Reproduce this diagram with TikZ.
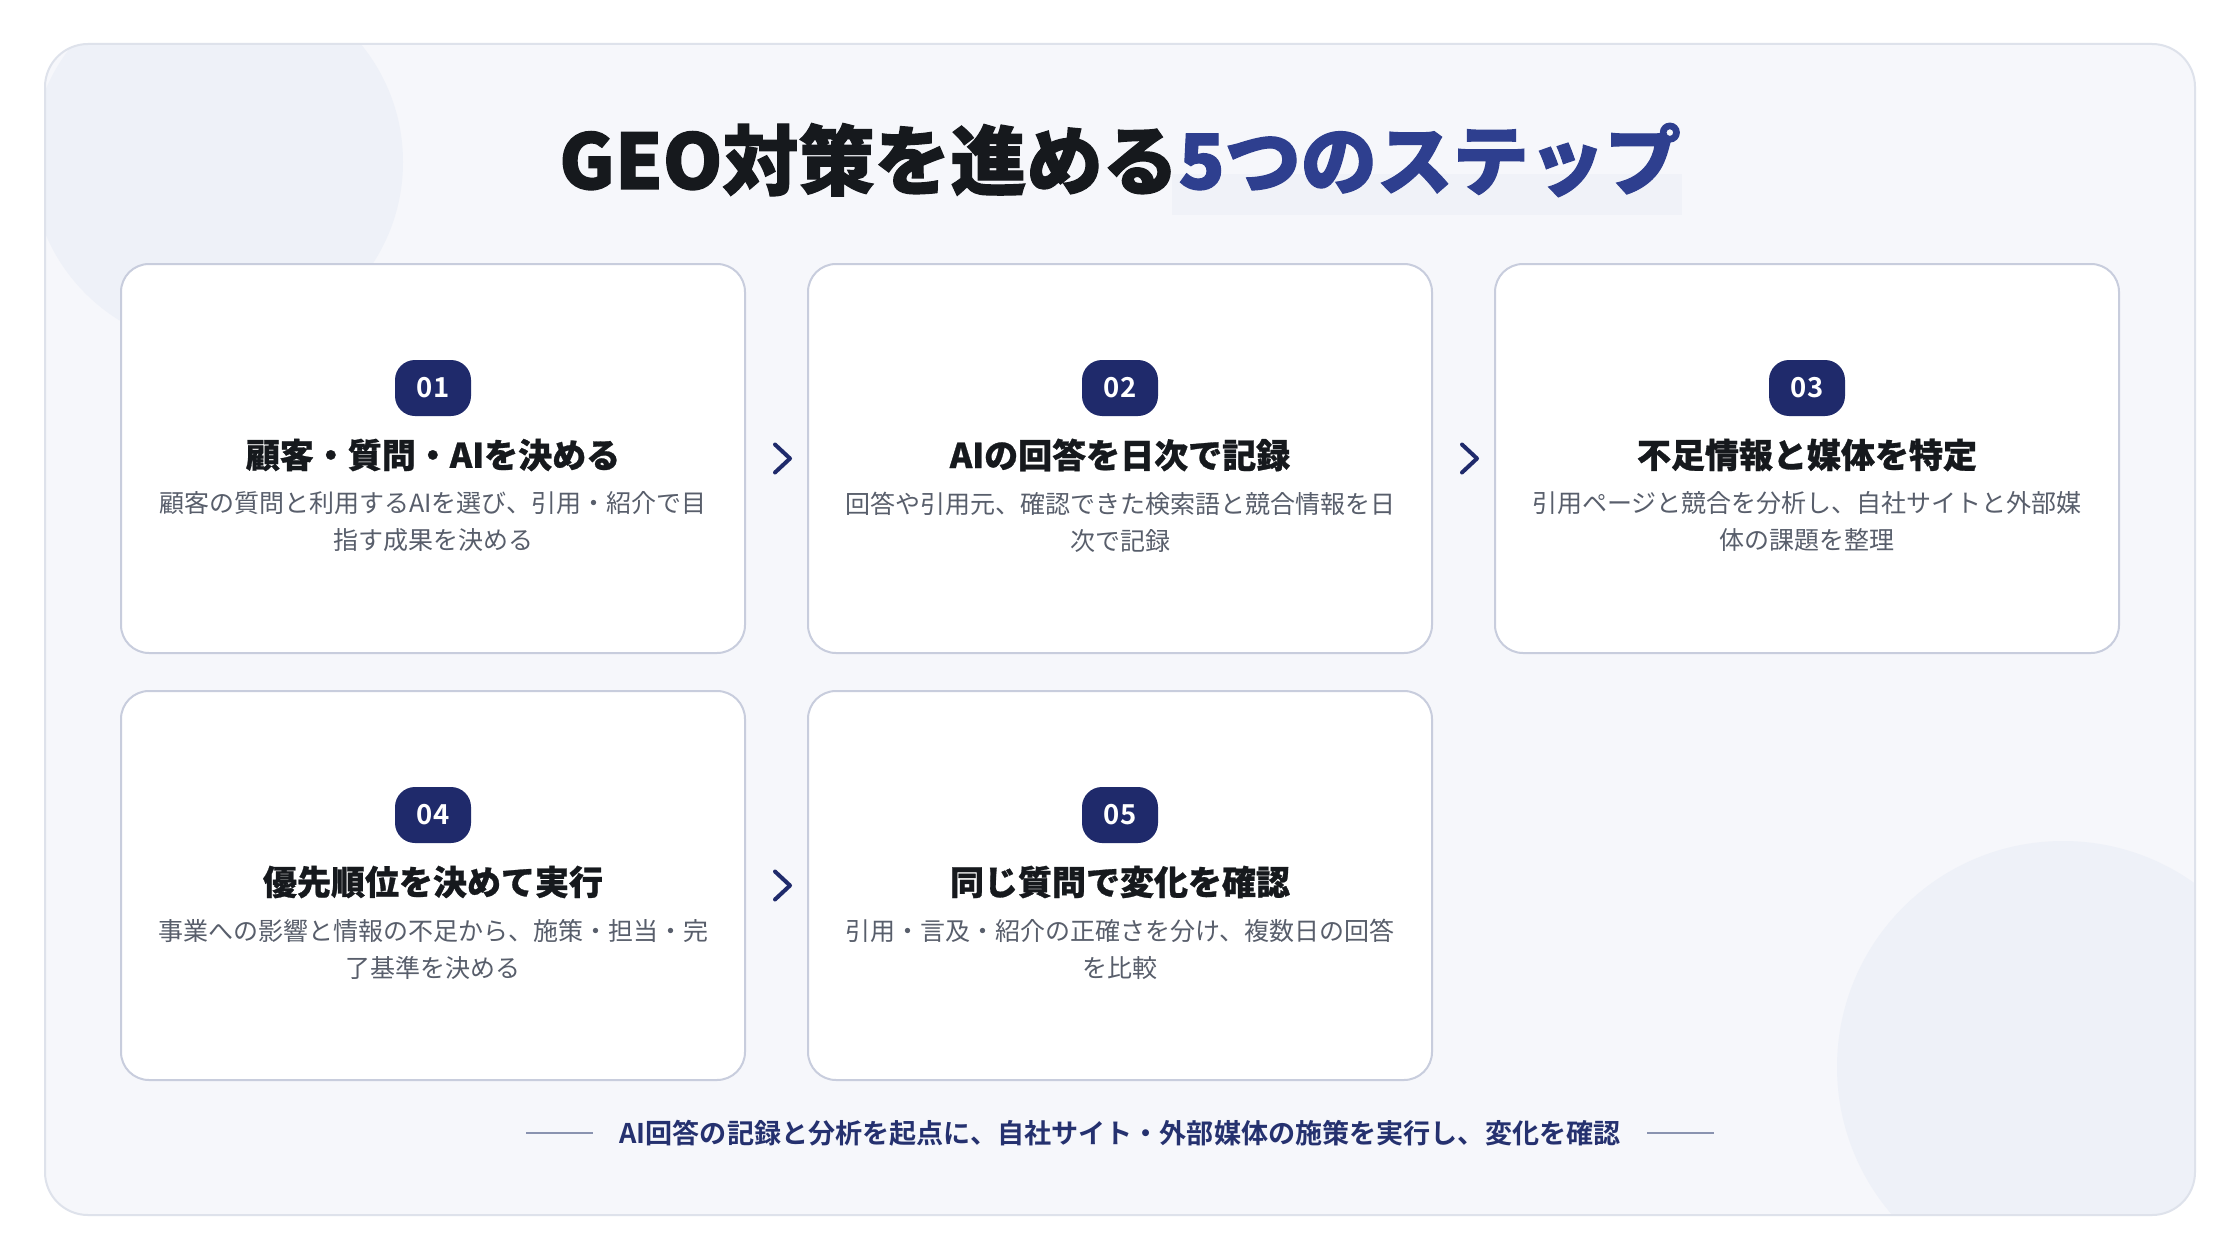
\documentclass[tikz,border=0pt]{standalone}
\usepackage{fontspec}
\setmainfont{Noto Sans CJK JP}
\newfontfamily\heavyfont{Noto Sans CJK JP Black}[FakeBold=0.8]
\newfontfamily\titlefont{Noto Sans CJK JP Black}[FakeBold=1.6]
\newfontfamily\boldfont{Noto Sans CJK JP Bold}
\newfontfamily\badgefont{Noto Sans CJK JP Bold}[LetterSpace=4]
\usetikzlibrary{calc}
\definecolor{ink}{HTML}{16191D}
\definecolor{blue5}{HTML}{2E3F8F}
\definecolor{navy}{HTML}{1F2A6B}
\definecolor{desc}{HTML}{585E6B}
\definecolor{cardline}{HTML}{C8CDDD}
\definecolor{panelbg}{HTML}{F6F7FB}
\definecolor{panelline}{HTML}{DEE2EB}
\definecolor{circ}{HTML}{EEF1F8}
\definecolor{hl}{HTML}{F0F2F8}
\definecolor{footc}{HTML}{25316F}
\definecolor{footl}{HTML}{8A93B0}
\begin{document}
\begin{tikzpicture}[x=1pt,y=-1pt,
  card/.style={draw=cardline, line width=2pt, fill=white, rounded corners=28pt,
    minimum width=624pt, minimum height=389pt, inner sep=0pt},
  badge/.style={fill=navy, rounded corners=20pt, minimum width=76pt,
    minimum height=56pt, inner sep=0pt, text=white,
    font=\badgefont\fontsize{27.5}{28}\selectfont},
  ctitle/.style={text=ink, font=\heavyfont\fontsize{34}{40}\selectfont, inner sep=0pt},
  cdesc/.style={text=desc, font=\fontsize{25}{37}\selectfont, align=center, inner sep=0pt},
  chev/.style={draw=navy, line width=4pt, line cap=round, line join=round},
  footline/.style={draw=footl, line width=1.6pt},
]
\useasboundingbox (0,0) rectangle (2240,1260);
\fill[white] (0,0) rectangle (2240,1260);
% panel
\fill[panelbg, rounded corners=43pt] (45,44) rectangle (2195,1215);
\begin{scope}
  \clip[rounded corners=43pt] (45,44) rectangle (2195,1215);
  \fill[circ] (217,162) circle (186pt);
  \fill[circ] (2063,1067) circle (226pt);
\end{scope}
\draw[panelline, line width=2pt, rounded corners=43pt] (45,44) rectangle (2195,1215);
% title
\fill[hl] (1172,174) rectangle (1682,215);
\node[font=\titlefont\fontsize{76}{80}\selectfont, inner sep=0pt] (ttl) at (1120,160)
  {\textcolor{ink}{GEO対策を進める}\textcolor{blue5}{5つのステップ}};
% cards
\node[card] (c1) at (433,458.5) {};
\node[card] (c2) at (1120,458.5) {};
\node[card] (c3) at (1807,458.5) {};
\node[card] (c4) at (433,885.5) {};
\node[card] (c5) at (1120,885.5) {};
% badges
\node[badge] (b1) at (433,388) {01};
\node[badge] (b2) at (1120,388) {02};
\node[badge] (b3) at (1807,388) {03};
\node[badge] (b4) at (433,815) {04};
\node[badge] (b5) at (1120,815) {05};
% titles
\node[ctitle] (t1) at (433,455) {顧客・質問・AIを決める};
\node[ctitle] (t2) at (1120,455) {AIの回答を日次で記録};
\node[ctitle] (t3) at (1807,455) {不足情報と媒体を特定};
\node[ctitle] (t4) at (433,882) {優先順位を決めて実行};
\node[ctitle] (t5) at (1120,882) {同じ質問で変化を確認};
% descriptions
\node[cdesc] (d1) at (433,522) {顧客の質問と利用するAIを選び、引用・紹介で目\\指す成果を決める};
\node[cdesc] (d2) at (1120,522) {回答や引用元、確認できた検索語と競合情報を日\\次で記録};
\node[cdesc] (d3) at (1807,522) {引用ページと競合を分析し、自社サイトと外部媒\\体の課題を整理};
\node[cdesc] (d4) at (433,949) {事業への影響と情報の不足から、施策・担当・完\\了基準を決める};
\node[cdesc] (d5) at (1120,949) {引用・言及・紹介の正確さを分け、複数日の回答\\を比較};
% chevrons
\coordinate (m12) at ($(c1.east)!0.5!(c2.west)$);
\coordinate (m23) at ($(c2.east)!0.5!(c3.west)$);
\coordinate (m45) at ($(c4.east)!0.5!(c5.west)$);
\foreach \m in {m12,m23,m45}{
  \draw[chev] ($(\m)+(-1.5,-14)$) -- ($(\m)+(13.5,0)$) -- ($(\m)+(-1.5,14)$);
}
% footer
\node[font=\boldfont\fontsize{27.1}{30}\selectfont, text=footc, inner sep=0pt] (ft) at (1120,1133)
  {AI回答の記録と分析を起点に、自社サイト・外部媒体の施策を実行し、変化を確認};
\coordinate (fla) at (526,1133);
\coordinate (flb) at (593,1133);
\coordinate (fra) at (1647,1133);
\coordinate (frb) at (1714,1133);
\draw[footline] (fla) -- (flb);
\draw[footline] (fra) -- (frb);
\end{tikzpicture}
\end{document}
